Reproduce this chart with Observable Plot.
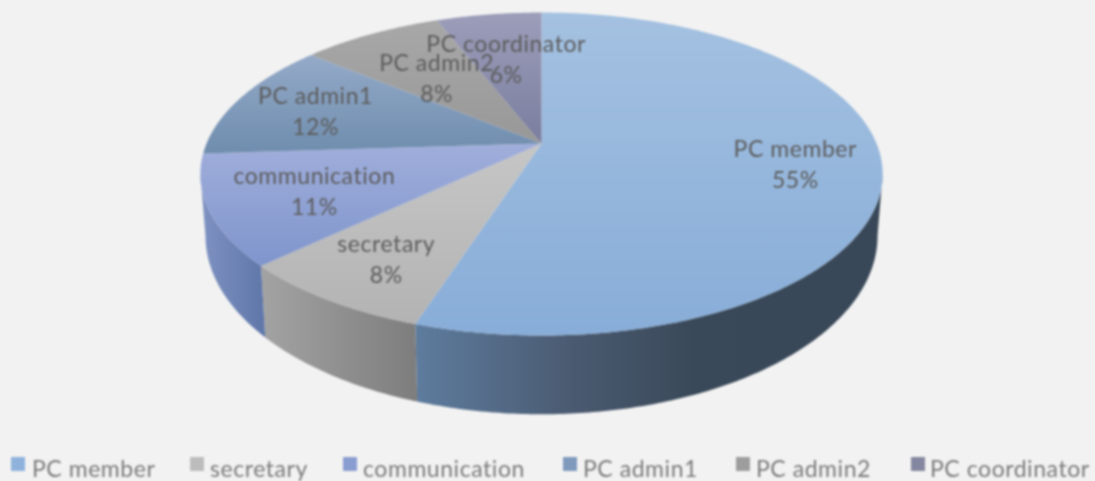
<!DOCTYPE html>
<html><head><meta charset="utf-8">
<script src="https://cdn.jsdelivr.net/npm/d3@7"></script>
<script src="https://cdn.jsdelivr.net/npm/@observablehq/plot@0.6"></script>
<style>
html,body{margin:0;padding:0;background:#f2f2f2;width:1095px;height:481px;overflow:hidden}
#chart svg{display:block;filter:blur(.9px);background:#f2f2f2}
#chart text{letter-spacing:.55px}
#legend{position:relative;height:29px;filter:blur(1.1px);font:23px Lato,sans-serif;letter-spacing:.55px;color:#7a7a7a}
#legend span{position:absolute;top:3px;line-height:26px;white-space:nowrap}
#legend i{position:absolute;top:5px;width:14px;height:14px}
</style></head><body>
<div id="chart"></div><div id="legend"></div>
<script>
// Data
const categories = ["PC member","secretary","communication","PC admin1","PC admin2","PC coordinator"];
const shares = [55,8,11,12,8,6];

// Styles
const topColors  = [["#a4c1e1","#88add8"],["#c6c6c6","#b3b3b3"],["#a0aedb","#7f95cc"],["#94aac8","#6f8dae"],["#a8a8a8","#989898"],["#9c9eba","#7a7d9e"]];
const sideStops  = [[["0","#5e7c9e"],[".35","#49596f"],[".6","#3a4959"],["1","#394858"]],[["0","#a3a3a3"],["1","#7d7d7d"]],[["0","#7f93c2"],["1","#5f76a9"]]];
const swatches   = ["#8fb2dc","#bcbcbc","#8a9dd0","#7f9abc","#9d9d9d","#84879f"];
const labelRadius = [.75,.76,.7,.74,.58,.63];
const legendSwatchX = [11,190,343,563,736,911];
const legendTextX   = [32,210,363,583,756,930];

// Perspective of the tilted disc (radius = 1)
const tilt = -0.189, yTop = 0.4648, depthA = 0.4806, depthB = 0.1749, shrink = 0.985;
const px = (r,t) => r*Math.sin(t)/(1+tilt*(-r*Math.cos(t)));
const py = (r,t) => { const v=-r*Math.cos(t); return yTop*v/(1+tilt*v); };
const bx = t => shrink*px(1,t);
const by = t => { const v=-Math.cos(t); return (depthA*v+depthB)/(1+tilt*v); };
const total = d3.sum(shares);
let acc = 0;
const slices = categories.map((name,i)=>{ const a0=acc/total*2*Math.PI; acc+=shares[i]; return {name,i,share:shares[i],a0,a1:acc/total*2*Math.PI}; });
const tanR = Math.acos(tilt), tanL = 2*Math.PI-tanR;
const arc = (a0,a1) => d3.range(0,1.0001,1/Math.max(2,Math.ceil((a1-a0)*90))).map(f=>a0+(a1-a0)*f);

const sideMarks = slices.flatMap(s=>{
  const a0=Math.max(s.a0,tanR), a1=Math.min(s.a1,tanL);
  if(a1<=a0) return [];
  const ts=arc(a0,a1);
  const pts=[...ts.map(t=>({x:px(1,t),y:py(1,t)})),...ts.slice().reverse().map(t=>({x:bx(t),y:by(t)}))];
  return [Plot.line(pts,{x:"x",y:"y",fill:`url(#side${s.i})`,stroke:"none",curve:"linear"})];
});
const topMarks = slices.map(s=>{
  const pts=[{x:0,y:0},...arc(s.a0,s.a1).map(t=>({x:px(1,t),y:py(1,t)}))];
  return Plot.line(pts,{x:"x",y:"y",fill:`url(#top${s.i})`,stroke:"none",curve:"linear"});
});
const labels = slices.map(s=>{const m=(s.a0+s.a1)/2,r=labelRadius[s.i];return {x:px(r,m),y:py(r,m),text:`${s.name}\n${s.share}%`};});

const chart = Plot.plot({
  width:1095,height:452,margin:0,
  x:{domain:[-1,1],range:[206,876],axis:null},
  y:{domain:[-1,1],range:[143-335,143+335],axis:null},
  style:{background:"#f2f2f2"},
  marks:[...sideMarks,...topMarks,
    Plot.text(labels,{x:"x",y:"y",text:"text",lineHeight:1.37,fontSize:23,fontFamily:"Lato, sans-serif",fill:"#5c5c5c"})]
});
const defs=d3.select(chart).insert("defs",":first-child");
topColors.forEach((c,i)=>{const g=defs.append("linearGradient").attr("id","top"+i).attr("x1",0).attr("x2",0).attr("y1",0).attr("y2",1);
  g.append("stop").attr("offset",0).attr("stop-color",c[0]);g.append("stop").attr("offset",1).attr("stop-color",c[1]);});
sideStops.forEach((st,i)=>{const g=defs.append("linearGradient").attr("id","side"+i).attr("x1",0).attr("x2",1).attr("y1",0).attr("y2",0);
  st.forEach(s=>g.append("stop").attr("offset",s[0]).attr("stop-color",s[1]));});
document.getElementById("chart").append(chart);

const lg=d3.select("#legend");
categories.forEach((c,i)=>{
  lg.append("i").style("left",legendSwatchX[i]+"px").style("background",swatches[i]);
  lg.append("span").style("left",legendTextX[i]+"px").text(c);
});
</script></body></html>
